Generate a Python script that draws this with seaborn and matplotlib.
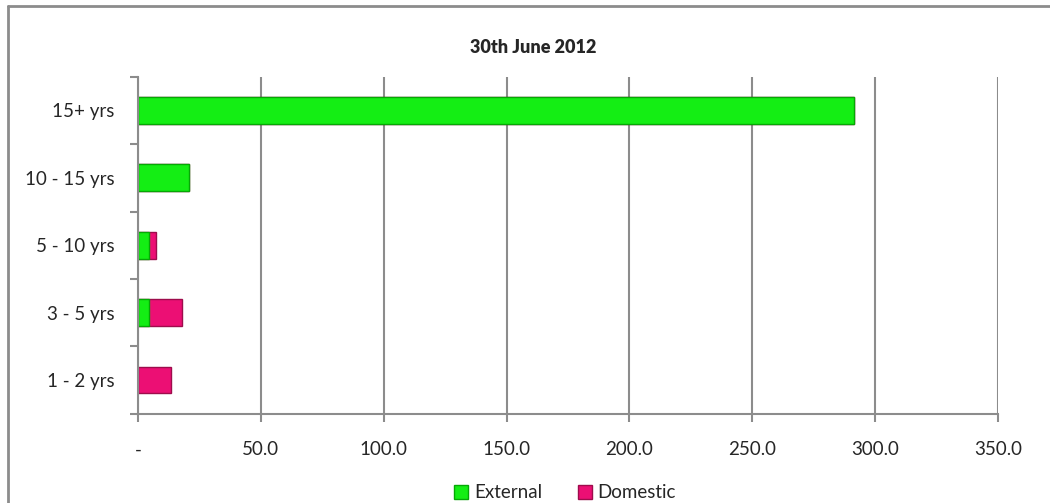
import pandas as pd
import numpy as np
import seaborn as sns
import matplotlib.pyplot as plt
from matplotlib.lines import Line2D
from matplotlib.patches import Patch

# maturity buckets, top to bottom as in the chart
buckets = ['15+ yrs', '10 - 15 yrs', '5 - 10 yrs', '3 - 5 yrs', '1 - 2 yrs']
external = [291.4, 20.8, 4.3, 4.6, 0.0]
domestic = [0.0, 0.0, 3.0, 13.3, 13.6]
x_ticks = [0, 50, 100, 150, 200, 250, 300, 350]
x_labels = ['-', '50.0', '100.0', '150.0', '200.0', '250.0', '300.0', '350.0']

green = '#14EE14'
green_edge = '#05A805'
pink = '#EC0F74'
pink_edge = '#9E0C4C'
grey = '#8C8C8C'

sns.set_style('white')
plt.rcParams['font.family'] = ['Lato', 'DejaVu Sans']

df = pd.DataFrame({'Bucket': buckets, 'External': external, 'Domestic': domestic})
df['Total'] = df['External'] + df['Domestic']

fig = plt.figure(figsize=(10.5, 5.03), dpi=100)
ax = fig.add_axes([0.1314, 0.1775, 0.8191, 0.670])

# stacked bars: draw totals in pink, then external in green on top
sns.barplot(data=df, x='Total', y='Bucket', orient='h', color=pink,
            edgecolor=pink_edge, linewidth=1.0, width=0.4, saturation=1, ax=ax)
sns.barplot(data=df, x='External', y='Bucket', orient='h', color=green,
            edgecolor=green_edge, linewidth=1.0, width=0.4, saturation=1, ax=ax)

# hide zero-width edges
for p in ax.patches:
    if p.get_width() <= 0:
        p.set_visible(False)

ax.set_xlim(0, 350)
ax.set_ylim(4.5, -0.5)
ax.set_xticks(x_ticks)
ax.set_xticklabels(x_labels, fontsize=13.5)
ax.set_xlabel('')
ax.set_ylabel('')
ax.xaxis.grid(True, color=grey, linewidth=1.5)
ax.set_axisbelow(True)

ax.tick_params(axis='x', length=6, width=1.5, color=grey, pad=14, direction='out',
               bottom=True)
ax.tick_params(axis='y', which='major', length=0, pad=17, labelsize=13.5)
ax.set_yticks(np.arange(-0.5, 5.0, 1.0), minor=True)
ax.tick_params(axis='y', which='minor', length=6, width=1.5, color=grey, left=True)

for side in ['top', 'right']:
    ax.spines[side].set_visible(False)
for side in ['left', 'bottom']:
    ax.spines[side].set_color(grey)
    ax.spines[side].set_linewidth(1.5)

fig.text(0.508, 0.906, '30th June 2012', ha='center', va='center',
         fontsize=13, fontweight='heavy')

handles = [Patch(facecolor=green, edgecolor=green_edge, label='External'),
           Patch(facecolor=pink, edgecolor=pink_edge, label='Domestic')]
fig.legend(handles=handles, loc='center', bbox_to_anchor=(0.538, 0.02), ncol=2,
           frameon=False, fontsize=13.5, handlelength=0.75, handleheight=0.75,
           handletextpad=0.3, columnspacing=1.9)

# chart frame (only top and left edges are inside the picture)
fig.add_artist(Line2D([0.0076, 1.0], [0.9871, 0.9871], color=grey, linewidth=2,
                      transform=fig.transFigure))
fig.add_artist(Line2D([0.0076, 0.0076], [0.0, 0.9871], color=grey, linewidth=2,
                      transform=fig.transFigure))

fig.savefig('out.png', dpi=100)
